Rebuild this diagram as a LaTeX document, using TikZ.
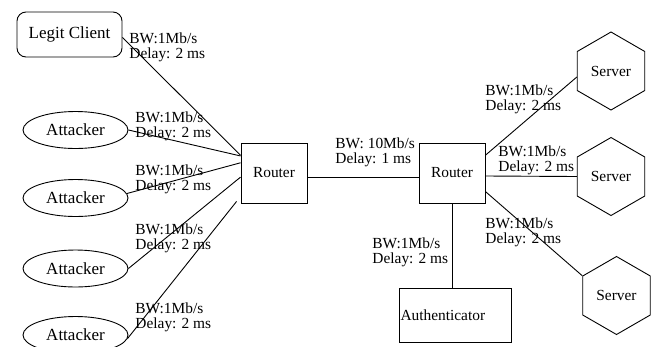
\documentclass[tikz,border=0pt]{standalone}
\usepackage{fontspec}
\setmainfont{Liberation Serif}
\usetikzlibrary{shapes.geometric}
\begin{document}
\begin{tikzpicture}[x=1pt,y=-1pt,line width=0.9pt,
  bigfont/.style={font=\fontsize{17}{18}\selectfont},
  smallfont/.style={font=\fontsize{15.4}{16}\selectfont},
  client/.style={draw,rounded corners=9pt,minimum width=105pt,minimum height=45pt,inner sep=0pt,bigfont},
  attacker/.style={draw,ellipse,minimum width=105pt,minimum height=37pt,inner sep=0pt,bigfont},
  router/.style={draw,minimum width=66pt,minimum height=60pt,inner sep=0pt,smallfont},
  server/.style={draw,regular polygon,regular polygon sides=6,shape border rotate=90,minimum size=78pt,inner sep=0pt,smallfont},
  authbox/.style={draw,text width=110pt,inner xsep=1pt,inner ysep=0pt,minimum height=54pt,align=left,smallfont},
  lbl/.style={anchor=west,align=left,inner sep=0pt,font=\fontsize{15.4}{15}\selectfont},
  link/.style={draw,line width=0.9pt}]
\useasboundingbox (0,0) rectangle (653,346);
\clip (0,0) rectangle (653,346);
\node[client] (lc) at (69.5,34.5) {Legit Client};
\node[attacker] (a1) at (75.5,130) {Attacker};
\node[attacker] (a2) at (75.5,198) {Attacker};
\node[attacker] (a3) at (75.5,268.5) {Attacker};
\node[attacker] (a4) at (75.5,335) {Attacker};
\node[router] (r1) at (274,173) {Router};
\node[router] (r2) at (452,173) {Router};
\node[server] (s1) at (611,71) {Server};
\node[server] (s2) at (611,176.5) {Server};
\node[server] (s3) at (616.5,295.5) {Server};
\node[authbox] (au) at (455.5,315) {Authenticator};

\path[link] ([yshift=-3pt]lc.east) -- (r1.152);
\path[link] (a1.east) -- (r1.153);
\path[link] (a2.5) -- (r1.163);
\path[link] (a3.east) -- (r1.187);
\path[link] (a4.-4) -- ([xshift=-4pt,yshift=2pt]r1.south west);
\path[link] ([yshift=-4pt]r1.east) -- ([yshift=-4pt]r2.west);
\path[link] (r2.28.6) -- (s1.190);
\path[link] ([yshift=-3pt]r2.east) -- (s2.west);
\path[link] (r2.331.4) -- (s3.150);
\path[link] (r2.south) -- (r2.south |- au.north);

\node[lbl] (l0) at (129,47.5) {BW:1Mb/s\\Delay: 2 ms};
\node[lbl] (l1) at (135,126) {BW:1Mb/s\\Delay: 2 ms};
\node[lbl] (l2) at (135,179.5) {BW:1Mb/s\\Delay: 2 ms};
\node[lbl] (l3) at (135,238.5) {BW:1Mb/s\\Delay: 2 ms};
\node[lbl] (l4) at (135,317) {BW:1Mb/s\\Delay: 2 ms};
\node[lbl] (lr) at (335,152.5) {BW: 10Mb/s\\Delay: 1 ms};
\node[lbl] (ls1) at (485,99.5) {BW:1Mb/s\\Delay: 2 ms};
\node[lbl] (ls2) at (498,160) {BW:1Mb/s\\Delay: 2 ms};
\node[lbl] (ls3) at (485,232.5) {BW:1Mb/s\\Delay: 2 ms};
\node[lbl] (la) at (372,252.5) {BW:1Mb/s\\Delay: 2 ms};
\end{tikzpicture}
\end{document}
